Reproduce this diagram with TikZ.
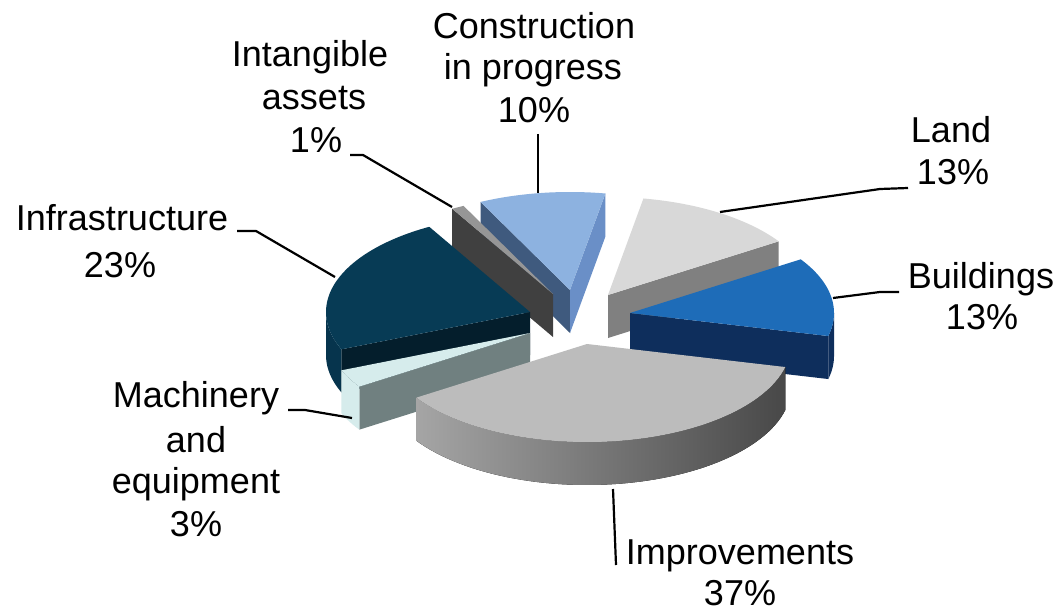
\documentclass[tikz,border=0pt]{standalone}
\usepackage{fontspec}
\setmainfont{Liberation Sans}
\definecolor{landtop}{RGB}{216,216,216}
\definecolor{landside}{RGB}{128,128,128}
\definecolor{bldtop}{RGB}{30,108,184}
\definecolor{bldside}{RGB}{14,46,92}
\definecolor{imptop}{RGB}{188,188,188}
\definecolor{impL}{RGB}{165,165,165}
\definecolor{impM}{RGB}{150,150,150}
\definecolor{impR}{RGB}{72,72,72}
\definecolor{machtop}{RGB}{214,236,236}
\definecolor{machface}{RGB}{112,128,128}
\definecolor{infratop}{RGB}{7,59,85}
\definecolor{infraface}{RGB}{4,30,44}
\definecolor{infraouter}{RGB}{6,52,77}
\definecolor{inttop}{RGB}{150,150,150}
\definecolor{intface}{RGB}{64,64,64}
\definecolor{contop}{RGB}{141,178,224}
\definecolor{conface}{RGB}{63,90,126}
\definecolor{conend}{RGB}{106,143,199}
\def\pieRx{204}
\def\pieRy{98}
\def\pieH{43}
% top face of a slice: apex x, apex y, start angle, end angle, style
\newcommand\slicetop[5]{%
  \fill[#5] (#1,#2) -- plot[domain=#3:#4,samples=60] ({#1+\pieRx*sin(\x)},{#2-\pieRy*cos(\x)}) -- cycle;}
% curved outer side
\newcommand\sliceouter[5]{%
  \fill[#5] plot[domain=#3:#4,samples=60] ({#1+\pieRx*sin(\x)},{#2-\pieRy*cos(\x)})
    -- plot[domain=#4:#3,samples=60] ({#1+\pieRx*sin(\x)},{#2+\pieH-\pieRy*cos(\x)}) -- cycle;}
% radial side face
\newcommand\sliceradial[4]{%
  \fill[#4] (#1,#2) -- ({#1+\pieRx*sin(#3)},{#2-\pieRy*cos(#3)})
    -- ({#1+\pieRx*sin(#3)},{#2+\pieH-\pieRy*cos(#3)}) -- (#1,#2+\pieH) -- cycle;}
\tikzset{
  lbl/.style={font=\fontsize{36}{43}\selectfont, anchor=base, inner sep=0pt, text=black},
  leader/.style={draw=black, line width=2.2pt, line join=round}
}
\begin{document}
\begin{tikzpicture}[x=1pt,y=-1pt]
\useasboundingbox (0,0) rectangle (1059,612);
\fill[white] (0,0) rectangle (1059,612);
% Land
\sliceradial{608}{295}{56.8}{landside}
\slicetop{608}{295}{10}{56.8}{landtop}
% Construction in progress
\sliceradial{570}{290}{334}{conface}
\sliceradial{570}{290}{10}{conend}
\slicetop{570}{290}{334}{370}{contop}
% Intangible assets
\sliceradial{553}{294}{330.4}{intface}
\slicetop{553}{294}{330.4}{334}{inttop}
% Infrastructure
\sliceradial{530}{312}{247.6}{infraface}
\sliceouter{530}{312}{247.6}{270}{infraouter}
\slicetop{530}{312}{247.6}{330.4}{infratop}
% Buildings
\sliceouter{630}{313}{90}{103.6}{bldside}
\sliceradial{630}{313}{103.6}{bldside}
\slicetop{630}{313}{56.8}{103.6}{bldtop}
% Machinery and equipment
\sliceradial{530}{333}{236.8}{machface}
\sliceouter{530}{333}{236.8}{247.6}{machtop}
\slicetop{530}{333}{236.8}{247.6}{machtop}
% Improvements
\sliceouter{587}{344}{103.6}{236.8}{left color=impL, middle color=impM, right color=impR}
\slicetop{587}{344}{103.6}{236.8}{imptop}

% labels
\node[lbl] (con1) at (534,39) {Construction};
\node[lbl] (con2) at (533,80) {in progress};
\node[lbl] (con3) at (534,123) {10\%};
\node[lbl] (int1) at (310,67) {Intangible};
\node[lbl] (int2) at (314,110) {assets};
\node[lbl] (int3) at (316,153) {1\%};
\node[lbl] (inf1) at (122,230) {Infrastructure};
\node[lbl] (inf2) at (120,277) {23\%};
\node[lbl] (land1) at (951,143) {Land};
\node[lbl] (land2) at (953,185) {13\%};
\node[lbl] (bld1) at (981,288) {Buildings};
\node[lbl] (bld2) at (982,329) {13\%};
\node[lbl] (mach1) at (196,407) {Machinery};
\node[lbl] (mach2) at (196,452) {and};
\node[lbl] (mach3) at (196,493) {equipment};
\node[lbl] (mach4) at (196,536) {3\%};
\node[lbl] (imp1) at (740,564) {Improvements};
\node[lbl] (imp2) at (740,605) {37\%};

% leader lines
\coordinate (conT) at (538,134);
\coordinate (conS) at (538,193);
\coordinate (intT) at (350,155);
\coordinate (intB) at (363,155);
\coordinate (intS) at (452,207);
\coordinate (infT) at (237,231);
\coordinate (infB) at (256,231);
\coordinate (infS) at (335,277);
\coordinate (landT) at (908,188);
\coordinate (landB) at (880,189);
\coordinate (landS) at (720,212);
\coordinate (bldT) at (899,292);
\coordinate (bldB) at (880,292);
\coordinate (bldS) at (833,298);
\coordinate (machT) at (288,410);
\coordinate (machB) at (305,410);
\coordinate (machS) at (352,418);
\coordinate (impS) at (613,489);
\coordinate (impT) at (616,565);
\draw[leader] (conT) -- (conS);
\draw[leader] (intT) -- (intB) -- (intS);
\draw[leader] (infT) -- (infB) -- (infS);
\draw[leader] (landT) -- (landB) -- (landS);
\draw[leader] (bldT) -- (bldB) -- (bldS);
\draw[leader] (machT) -- (machB) -- (machS);
\draw[leader] (impS) -- (impT);
\end{tikzpicture}
\end{document}
